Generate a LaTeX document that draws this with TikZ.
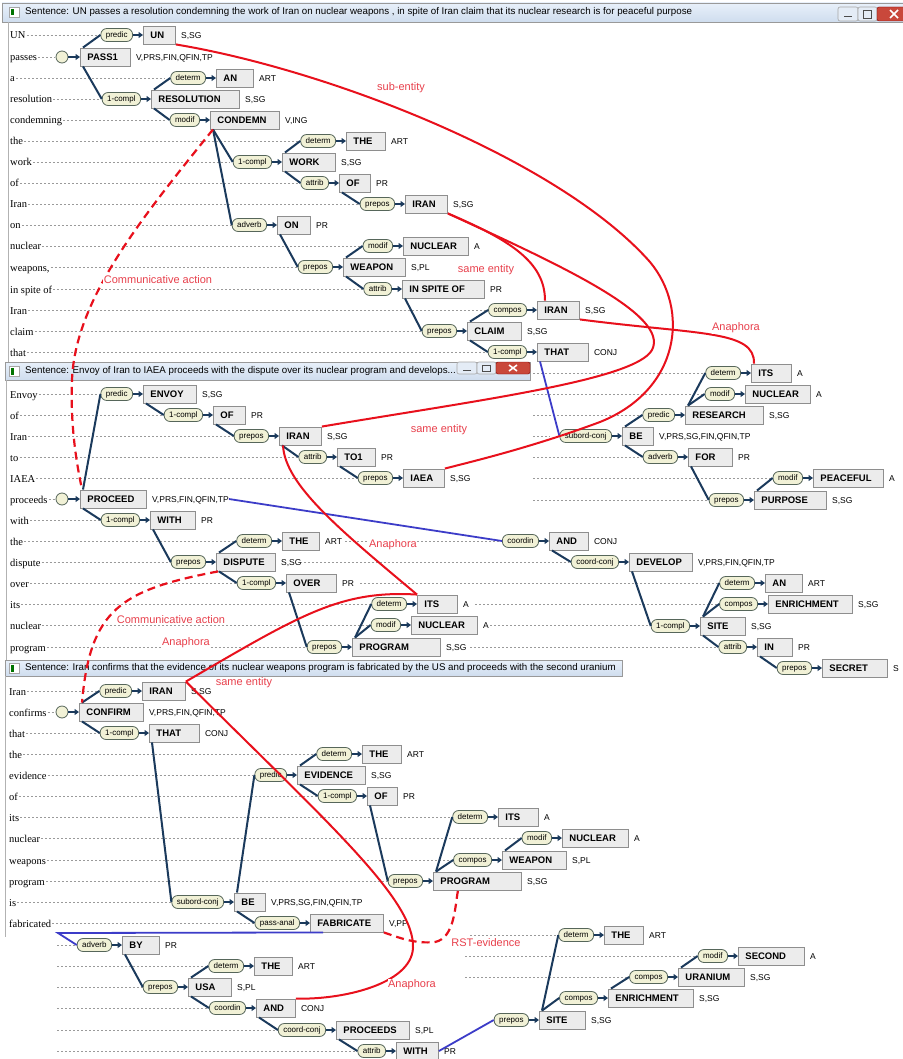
\documentclass[tikz,border=0pt]{standalone}
\usepackage{fontspec}
\setmainfont{Liberation Serif}
\setsansfont{Liberation Sans}
\usetikzlibrary{positioning,arrows.meta}

\definecolor{treeblue}{HTML}{1B3A5C}
\definecolor{relfill}{HTML}{F1F1D6}
\definecolor{relline}{HTML}{56665A}
\definecolor{boxfill}{HTML}{ECECEC}
\definecolor{boxline}{HTML}{8E8E8E}
\definecolor{linkred}{HTML}{E8101C}
\definecolor{labelred}{HTML}{E8404C}
\definecolor{linkblue}{HTML}{3C3CC8}
\definecolor{bartop}{HTML}{E8F0FA}
\definecolor{barbot}{HTML}{CFDDEE}
\definecolor{guidegray}{HTML}{9A9A9A}
\definecolor{btnfill}{HTML}{E4ECF6}
\definecolor{closered}{HTML}{C9483B}

\tikzset{
	wbox/.style={draw=boxline, line width=0.9pt, fill=boxfill, anchor=west, minimum height=18pt,
		inner xsep=7pt, inner ysep=0pt, text height=7pt, text depth=0pt,
		font=\sffamily\bfseries\fontsize{9.5}{10}\selectfont},
	feat/.style={anchor=west, inner sep=0pt, text height=7pt, text depth=0pt,
		font=\sffamily\fontsize{8.5}{10}\selectfont},
	rel/.style={draw=relline, line width=0.8pt, fill=relfill, rounded corners=6pt, minimum height=13pt,
		inner xsep=5pt, inner ysep=0pt, text height=6pt, text depth=1.5pt,
		font=\sffamily\fontsize{8}{9}\selectfont},
	relarrow/.style={treeblue, line width=1.8pt, -{Triangle[length=4.5pt,width=6pt]}},
	tree/.style={treeblue, line width=2pt},
	word/.style={anchor=west, inner sep=0pt, text height=10pt, text depth=2pt,
		font=\fontsize{10.5}{12}\selectfont},
	guide/.style={guidegray, line width=0.5pt, dash pattern=on 2pt off 2pt},
	root/.style={circle, draw=relline, fill=relfill, line width=0.8pt, minimum size=12pt, inner sep=0pt},
	link/.style={linkred, line width=2pt},
	dlink/.style={linkred, line width=2.2pt, dash pattern=on 8pt off 5pt},
	blink/.style={linkblue, line width=1.8pt},
	linklabel/.style={fill=white, inner sep=0.5pt, text=labelred, font=\sffamily\fontsize{11}{12}\selectfont},
	titlebar/.style={draw=gray!80, line width=0.6pt, top color=bartop, bottom color=barbot},
	titletext/.style={anchor=west, inner sep=0pt, text height=7pt, text depth=2pt,
		font=\sffamily\fontsize{9.75}{11}\selectfont},
	frame/.style={gray!60, line width=0.8pt},
	btn/.style={draw=gray!70, fill=btnfill, rounded corners=2pt, line width=0.6pt}
}

\newcommand{\tok}[6]{\node[wbox] (#1) at (#2,#3) {\hbox to \dimexpr#4pt-14pt\relax{#5\hfil}};
	\node[feat, right=5pt of #1] (#1f) {#6};}
\newcommand{\rel}[2]{\node[rel, left=10pt of #1] (#1r) {#2};
	\draw[relarrow] (#1r) -- (#1);}
\newcommand{\edgeup}[2]{\draw[tree] ([xshift=3pt]#1.north west) -- (#2r.west);}
\newcommand{\edgedown}[2]{\draw[tree] ([xshift=3pt]#1.south west) -- (#2r.west);}
\newcommand{\winbtns}[3]{%
	\draw[btn] (#1,#2) rectangle ++(20,#3);
	\draw[gray!60!black, line width=1pt] (#1+6,#2+#3-4) -- ++(8,0);
	\draw[btn] (#1+20,#2) rectangle ++(19,#3);
	\draw[gray!60!black, line width=0.7pt] (#1+25.5,#2+3) rectangle ++(8,#3-6);
	\draw[draw=red!50!black, fill=closered, rounded corners=2pt] (#1+39,#2) rectangle ++(34,#3);
	\draw[white, line width=1.6pt] (#1+52,#2+3) -- ++(8,#3-6) (#1+52,#2+#3-3) -- ++(8,-#3+6);}

\begin{document}
\begin{tikzpicture}[x=1pt, y=-1pt]
	\useasboundingbox[fill=white] (0,0) rectangle (902,1059);

	% windows
	\draw[titlebar] (2,3) rectangle (904,22);
	\draw[frame] (8,22) -- (8,362);
	\draw[gray!70, fill=white] (9,7) rectangle (19,17);
	\fill[green!45!black] (10.5,9) rectangle (13.5,15.5);
	\node[titletext] (title1) at (25,12) {Sentence: UN passes a resolution condemning the work of Iran on nuclear weapons , in spite of Iran claim that its nuclear research is for peaceful purpose};
	\winbtns{838}{7}{14}

	\draw[titlebar] (5,362) rectangle (530,380);
	\draw[frame] (6,380) -- (6,660);
	\draw[gray!70, fill=white] (9,366) rectangle (19,376);
	\fill[green!45!black] (10.5,368) rectangle (13.5,374.5);
	\node[titletext] (title2) at (25,371) {Sentence: Envoy of Iran to IAEA proceeds with the dispute over its nuclear program and develops...};
	\winbtns{457}{362}{12}

	\draw[titlebar] (5,660) rectangle (622,676);
	\draw[frame] (5,676) -- (5,937);
	\draw[gray!70, fill=white] (9,663) rectangle (19,673);
	\fill[green!45!black] (10.5,665) rectangle (13.5,671.5);
	\node[titletext] (title3) at (25,668) {Sentence: Iran confirms that the evidence of its nuclear weapons program is fabricated by the US and proceeds with the second uranium};

	% words and guide lines
	\foreach \w/\y/\e [count=\i] in {UN/35/98, passes/57/55, a/78/165, resolution/99/100, condemning/120/165,
		the/141/301, work/162/230, of/183/299, Iran/204/360, on/225/232, nuclear/246/363, weapons{,}/267/298,
		in spite of/289/362, Iran/310/492, claim/331/422, that/352/492}
	{\node[word] (s1w\i) at (10,\y) {\w};
	 \draw[guide] ([xshift=1pt]s1w\i.east) -- (\e,\y);}
	\foreach \w/\y/\e [count=\i] in {Envoy/394/98, of/415/168, Iran/436/234, to/457/297, IAEA/478/358,
		proceeds/499/55, with/520/100, the/541/237, dispute/562/171, over/583/241, its/604/372,
		nuclear/625/371, program/647/307}
	{\node[word] (s2w\i) at (10,\y) {\w};
	 \draw[guide] ([xshift=1pt]s2w\i.east) -- (\e,\y);}
	\foreach \w/\y/\e [count=\i] in {Iran/691/98, confirms/712/55, that/733/100, the/754/317, evidence/775/252,
		of/796/322, its/817/453, nuclear/838/522, weapons/860/455, program/881/388, is/902/174, fabricated/923/255}
	{\node[word] (s3w\i) at (9,\y) {\w};
	 \draw[guide] ([xshift=1pt]s3w\i.east) -- (\e,\y);}
	\foreach \a/\b/\y in {533/706/373, 533/705/394, 533/640/415, 533/550/436, 533/640/457, 533/775/478, 533/715/500,
		345/504/541, 300/569/562, 360/720/583, 475/721/604, 490/655/625, 470/717/647,
		57/77/945, 57/209/966, 57/143/987, 57/211/1008, 57/281/1030, 57/356/1051,
		470/559/935, 465/698/956, 465/631/977}
	{\draw[guide] (\a,\y) -- (\b,\y);}

	% sentence 1
	\tok{pass1}{80}{57}{50}{PASS1}{V,PRS,FIN,QFIN,TP}
	\node[root] (root1) at (62,57) {};
	\draw[relarrow] (root1) -- (pass1);
	\tok{un1}{143}{35}{32}{UN}{S,SG} \rel{un1}{predic} \edgeup{pass1}{un1}
	\tok{resolution1}{151}{99}{88}{RESOLUTION}{S,SG} \rel{resolution1}{1-compl} \edgedown{pass1}{resolution1}
	\tok{an1}{216}{78}{37}{AN}{ART} \rel{an1}{determ} \edgeup{resolution1}{an1}
	\tok{condemn1}{210}{120}{69}{CONDEMN}{V,ING} \rel{condemn1}{modif} \edgedown{resolution1}{condemn1}
	\tok{work1}{282}{162}{53}{WORK}{S,SG} \rel{work1}{1-compl} \edgedown{condemn1}{work1}
	\tok{the1}{346}{141}{39}{THE}{ART} \rel{the1}{determ} \edgeup{work1}{the1}
	\tok{of1}{339}{183}{31}{OF}{PR} \rel{of1}{attrib} \edgedown{work1}{of1}
	\tok{iran1}{405}{204}{42}{IRAN}{S,SG} \rel{iran1}{prepos} \edgedown{of1}{iran1}
	\tok{on1}{277}{225}{33}{ON}{PR} \rel{on1}{adverb} \edgedown{condemn1}{on1}
	\tok{weapon1}{343}{267}{62}{WEAPON}{S,PL} \rel{weapon1}{prepos} \edgedown{on1}{weapon1}
	\tok{nuclear1}{403}{246}{65}{NUCLEAR}{A} \rel{nuclear1}{modif} \edgeup{weapon1}{nuclear1}
	\tok{spite1}{402}{289}{82}{IN SPITE OF}{PR} \rel{spite1}{attrib} \edgedown{weapon1}{spite1}
	\tok{claim1}{467}{331}{54}{CLAIM}{S,SG} \rel{claim1}{prepos} \edgedown{spite1}{claim1}
	\tok{iranb1}{537}{310}{42}{IRAN}{S,SG} \rel{iranb1}{compos} \edgeup{claim1}{iranb1}
	\tok{that1}{537}{352}{51}{THAT}{CONJ} \rel{that1}{1-compl} \edgedown{claim1}{that1}
	\tok{be1}{622}{436}{31}{BE}{V,PRS,SG,FIN,QFIN,TP} \rel{be1}{subord-conj}
	\draw[blink] ([xshift=3pt]that1.south west) -- (be1r.west);
	\tok{research1}{685}{415}{78}{RESEARCH}{S,SG} \rel{research1}{predic} \edgeup{be1}{research1}
	\tok{its1}{751}{373}{40}{ITS}{A} \rel{its1}{determ} \edgeup{research1}{its1}
	\tok{nuclearb1}{745}{394}{65}{NUCLEAR}{A} \rel{nuclearb1}{modif} \edgeup{research1}{nuclearb1}
	\tok{for1}{688}{457}{44}{FOR}{PR} \rel{for1}{adverb} \edgedown{be1}{for1}
	\tok{purpose1}{754}{500}{72}{PURPOSE}{S,SG} \rel{purpose1}{prepos} \edgedown{for1}{purpose1}
	\tok{peaceful1}{813}{478}{70}{PEACEFUL}{A} \rel{peaceful1}{modif} \edgeup{purpose1}{peaceful1}

	% sentence 2
	\tok{proceed2}{80}{499}{66}{PROCEED}{V,PRS,FIN,QFIN,TP}
	\node[root] (root2) at (62,499) {};
	\draw[relarrow] (root2) -- (proceed2);
	\tok{envoy2}{143}{394}{53}{ENVOY}{S,SG} \rel{envoy2}{predic} \edgeup{proceed2}{envoy2}
	\tok{of2}{213}{415}{32}{OF}{PR} \rel{of2}{1-compl} \edgedown{envoy2}{of2}
	\tok{iran2}{279}{436}{42}{IRAN}{S,SG} \rel{iran2}{prepos} \edgedown{of2}{iran2}
	\tok{to2}{337}{457}{38}{TO1}{PR} \rel{to2}{attrib} \edgedown{iran2}{to2}
	\tok{iaea2}{403}{478}{41}{IAEA}{S,SG} \rel{iaea2}{prepos} \edgedown{to2}{iaea2}
	\tok{with2}{150}{520}{45}{WITH}{PR} \rel{with2}{1-compl} \edgedown{proceed2}{with2}
	\tok{dispute2}{216}{562}{59}{DISPUTE}{S,SG} \rel{dispute2}{prepos} \edgedown{with2}{dispute2}
	\tok{the2}{282}{541}{37}{THE}{ART} \rel{the2}{determ} \edgeup{dispute2}{the2}
	\tok{over2}{286}{583}{50}{OVER}{PR} \rel{over2}{1-compl} \edgedown{dispute2}{over2}
	\tok{program2}{352}{647}{88}{PROGRAM}{S,SG} \rel{program2}{prepos} \edgedown{over2}{program2}
	\tok{its2}{417}{604}{40}{ITS}{A} \rel{its2}{determ} \edgeup{program2}{its2}
	\tok{nuclear2}{411}{625}{66}{NUCLEAR}{A} \rel{nuclear2}{modif} \edgeup{program2}{nuclear2}
	\tok{and2}{549}{541}{39}{AND}{CONJ} \rel{and2}{coordin}
	\draw[blink] (proceed2f.east) -- (and2r.west);
	\tok{develop2}{629}{562}{63}{DEVELOP}{V,PRS,FIN,QFIN,TP} \rel{develop2}{coord-conj} \edgedown{and2}{develop2}
	\tok{site2}{700}{626}{45}{SITE}{S,SG} \rel{site2}{1-compl} \edgedown{develop2}{site2}
	\tok{an2}{765}{583}{37}{AN}{ART} \rel{an2}{determ} \edgeup{site2}{an2}
	\tok{enrichment2}{768}{604}{84}{ENRICHMENT}{S,SG} \rel{enrichment2}{compos} \edgeup{site2}{enrichment2}
	\tok{in2}{757}{647}{35}{IN}{PR} \rel{in2}{attrib} \edgedown{site2}{in2}
	\tok{secret2}{822}{668}{65}{SECRET}{S} \rel{secret2}{prepos} \edgedown{in2}{secret2}

	% sentence 3
	\tok{confirm3}{79}{712}{64}{CONFIRM}{V,PRS,FIN,QFIN,TP}
	\node[root] (root3) at (62,712) {};
	\draw[relarrow] (root3) -- (confirm3);
	\tok{iran3}{142}{691}{43}{IRAN}{S,SG} \rel{iran3}{predic} \edgeup{confirm3}{iran3}
	\tok{that3}{149}{733}{50}{THAT}{CONJ} \rel{that3}{1-compl} \edgedown{confirm3}{that3}
	\tok{be3}{234}{902}{31}{BE}{V,PRS,SG,FIN,QFIN,TP} \rel{be3}{subord-conj} \edgedown{that3}{be3}
	\tok{evidence3}{297}{775}{68}{EVIDENCE}{S,SG} \rel{evidence3}{predic} \edgeup{be3}{evidence3}
	\tok{the3}{362}{754}{39}{THE}{ART} \rel{the3}{determ} \edgeup{evidence3}{the3}
	\tok{of3}{367}{796}{30}{OF}{PR} \rel{of3}{1-compl} \edgedown{evidence3}{of3}
	\tok{program3}{433}{881}{88}{PROGRAM}{S,SG} \rel{program3}{prepos} \edgedown{of3}{program3}
	\tok{its3}{498}{817}{40}{ITS}{A} \rel{its3}{determ} \edgeup{program3}{its3}
	\tok{weapon3}{502}{860}{64}{WEAPON}{S,PL} \rel{weapon3}{compos} \edgeup{program3}{weapon3}
	\tok{nuclear3}{562}{838}{66}{NUCLEAR}{A} \rel{nuclear3}{modif} \edgeup{weapon3}{nuclear3}
	\tok{fabricate3}{310}{923}{73}{FABRICATE}{V,PP} \rel{fabricate3}{pass-anal} \edgedown{be3}{fabricate3}
	\tok{by3}{122}{945}{37}{BY}{PR} \rel{by3}{adverb}
	\coordinate (bybend) at (58,933);
	\draw[blink] ([xshift=13pt]fabricate3.south west) -- (bybend) -- (by3r.west);
	\tok{usa3}{188}{987}{43}{USA}{S,PL} \rel{usa3}{prepos} \edgedown{by3}{usa3}
	\tok{theb3}{254}{966}{38}{THE}{ART} \rel{theb3}{determ} \edgeup{usa3}{theb3}
	\tok{and3}{256}{1008}{39}{AND}{CONJ} \rel{and3}{coordin} \edgedown{usa3}{and3}
	\tok{proceeds3}{336}{1030}{73}{PROCEEDS}{S,PL} \rel{proceeds3}{coord-conj} \edgedown{and3}{proceeds3}
	\tok{with3}{396}{1051}{42}{WITH}{PR} \rel{with3}{attrib} \edgedown{proceeds3}{with3}
	\tok{site3}{539}{1020}{46}{SITE}{S,SG} \rel{site3}{prepos}
	\draw[blink] (with3.east) -- (site3r.west);
	\tok{thec3}{604}{935}{39}{THE}{ART} \rel{thec3}{determ} \edgeup{site3}{thec3}
	\tok{enrichment3}{608}{998}{85}{ENRICHMENT}{S,SG} \rel{enrichment3}{compos} \edgeup{site3}{enrichment3}
	\tok{uranium3}{678}{977}{66}{URANIUM}{S,SG} \rel{uranium3}{compos} \edgeup{enrichment3}{uranium3}
	\tok{second3}{738}{956}{66}{SECOND}{A} \rel{second3}{modif} \edgeup{uranium3}{second3}

	% discourse links
	\draw[link] (un1.south east) .. controls (330,70) and (560,160) .. (650,262)
		.. controls (690,310) and (680,390) .. (600,422) .. controls (530,448) and (470,462) .. (iaea2.north east);
	\draw[link] (iran1.south east) .. controls (510,240) and (545,262) .. ([xshift=8pt]iranb1.north west);
	\draw[link] (iran1.south east) .. controls (560,265) and (670,315) .. (652,350)
		.. controls (635,380) and (480,400) .. (iran2.north east);
	\draw[link] (iranb1.south east) .. controls (700,335) and (755,330) .. ([xshift=3pt]its1.north west);
	\draw[link] ([xshift=4pt]iran2.south west) .. controls (285,485) and (340,530) .. (its2.north west);
	\draw[link] (its2.north west) .. controls (340,590) and (300,615) .. (iran3.north east);
	\draw[link] (iran3.north east) .. controls (330,825) and (415,900) .. (413,948)
		.. controls (411,985) and (340,1000) .. (and3.north east);
	\draw[dlink] ([xshift=3pt]condemn1.south west) .. controls (140,220) and (75,300) .. (72,380)
		.. controls (70,430) and (78,470) .. ([xshift=2pt]proceed2.north west);
	\draw[dlink] ([xshift=2pt]dispute2.south west) .. controls (120,590) and (90,610) .. ([xshift=3pt]confirm3.north west);
	\draw[dlink] (fabricate3.south east) .. controls (400,938) and (415,944) .. (435,942)
		.. controls (455,938) and (455,905) .. ([xshift=25pt]program3.south west);

	\node[linklabel] (lsub) at (401,88) {sub-entity};
	\node[linklabel] (lsame1) at (486,270) {same entity};
	\node[linklabel] (lana1) at (736,328) {Anaphora};
	\node[linklabel] (lcomm1) at (158,280) {Communicative action};
	\node[linklabel] (lsame2) at (439,430) {same entity};
	\node[linklabel] (lana2) at (393,545) {Anaphora};
	\node[linklabel] (lcomm2) at (171,620) {Communicative action};
	\node[linklabel] (lana3) at (186,643) {Anaphora};
	\node[linklabel] (lsame3) at (244,683) {same entity};
	\node[linklabel] (lrst) at (486,943) {RST-evidence};
	\node[linklabel] (lana4) at (412,985) {Anaphora};
\end{tikzpicture}
\end{document}
